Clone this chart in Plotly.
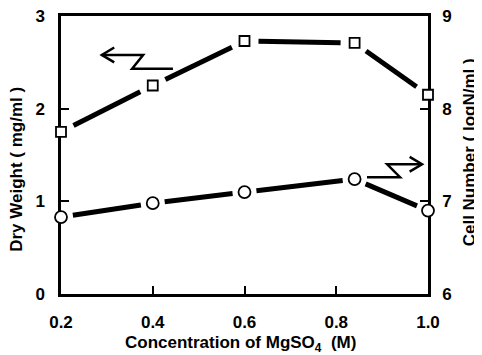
import math
import plotly.graph_objects as go

# ---- data ----
conc = [0.2, 0.4, 0.6, 0.84, 1.0]                 # MgSO4 (M)
dry_weight = [1.75, 2.25, 2.73, 2.71, 2.15]       # mg/ml (left axis)
cell_number = [6.83, 6.98, 7.10, 7.24, 6.90]      # logN/ml (right axis)
x_ticks = [0.2, 0.4, 0.6, 0.8, 1.0]
y_ticks = [0, 1, 2, 3]
y2_ticks = [6, 7, 8, 9]

# ---- layout geometry (page has an 8px body margin) ----
W, H = 474, 347
ML, MR, MT, MB = 53, 54, 8, 61
PW, PH = W - ML - MR, H - MT - MB
XR = [0.2, 1.0]
YR = [0, 3]
Y2R = [6, 9]
FONT = "Liberation Sans, Arial, sans-serif"


def gapped(xs, ys, yr, gap):
    """Segments between points, trimmed by `gap` px at each end."""
    gx, gy = [], []
    for i in range(len(xs) - 1):
        dx = (xs[i + 1] - xs[i]) / (XR[1] - XR[0]) * PW
        dy = (ys[i + 1] - ys[i]) / (yr[1] - yr[0]) * PH
        t = gap / math.hypot(dx, dy)
        gx += [xs[i] + t * (xs[i + 1] - xs[i]), xs[i + 1] - t * (xs[i + 1] - xs[i]), None]
        gy += [ys[i] + t * (ys[i + 1] - ys[i]), ys[i + 1] - t * (ys[i + 1] - ys[i]), None]
    return gx, gy


fig = go.Figure()

sx, sy = gapped(conc, dry_weight, YR, 14)
fig.add_trace(go.Scatter(x=sx, y=sy, mode="lines", line=dict(color="black", width=5),
                         cliponaxis=False, showlegend=False, hoverinfo="skip"))
fig.add_trace(go.Scatter(x=conc, y=dry_weight, mode="markers", cliponaxis=False,
                         marker=dict(symbol="square", size=10, color="white",
                                     line=dict(color="black", width=1.8)),
                         name="Dry Weight", showlegend=False))

cx, cy = gapped(conc, cell_number, Y2R, 12)
fig.add_trace(go.Scatter(x=cx, y=cy, mode="lines", yaxis="y2", line=dict(color="black", width=5),
                         cliponaxis=False, showlegend=False, hoverinfo="skip"))
fig.add_trace(go.Scatter(x=conc, y=cell_number, mode="markers", yaxis="y2", cliponaxis=False,
                         marker=dict(symbol="circle", size=12, color="white",
                                     line=dict(color="black", width=1.8)),
                         name="Cell Number", showlegend=False))

# ---- zigzag arrows (in data coords, left axis) ----
left_arrow = [(0.444, 2.43), (0.355, 2.43), (0.379, 2.58), (0.289, 2.58)]
left_head = [(0.316, 2.66), (0.289, 2.58), (0.316, 2.50)]
right_arrow = [(0.867, 1.26), (0.939, 1.26), (0.911, 1.40), (0.987, 1.40)]
right_head = [(0.960, 1.48), (0.987, 1.40), (0.960, 1.32)]


def path(pts):
    return "M " + " L ".join(f"{x},{y}" for x, y in pts)


shapes = []
for pts in (left_arrow, left_head, right_arrow, right_head):
    shapes.append(dict(type="path", path=path(pts), xref="x", yref="y",
                       line=dict(color="black", width=2.5)))

TICKFONT = dict(family=FONT, size=17, color="black", weight="bold")
TITLEFONT = dict(family=FONT, size=17, color="black", weight="bold")

annotations = [
    dict(text="Dry&nbsp;Weight&nbsp;(&nbsp;mg/ml&nbsp;)", textangle=-90, x=-0.12, y=0.45,
         xref="paper", yref="paper", showarrow=False, font=TITLEFONT,
         xanchor="center", yanchor="middle"),
    dict(text="Cell&nbsp;Number&nbsp;(&nbsp;logN/ml&nbsp;)", textangle=-90, x=1.112, y=0.51,
         xref="paper", yref="paper", showarrow=False, font=TITLEFONT,
         xanchor="center", yanchor="middle"),
    dict(text="Concentration of MgSO<sub>4</sub>&nbsp;&nbsp;(M)", x=0.49, y=-0.18,
         xref="paper", yref="paper", showarrow=False, font=TITLEFONT,
         xanchor="center", yanchor="middle"),
]

axis_common = dict(showgrid=False, zeroline=False, showline=True, linecolor="black",
                   linewidth=2.5, ticks="inside", ticklen=8, tickwidth=2, tickcolor="black",
                   layer="below traces", tickfont=TICKFONT, automargin=False,
                   ticklabeloverflow="allow")

fig.update_layout(
    width=W, height=H,
    margin=dict(l=ML, r=MR, t=MT, b=MB, autoexpand=False),
    paper_bgcolor="white", plot_bgcolor="white",
    font=dict(family=FONT, color="black", weight="bold"),
    shapes=shapes,
    annotations=annotations,
    xaxis=dict(range=XR, tickvals=x_ticks, ticktext=[f"{v:.1f}" for v in x_ticks],
               mirror=True, ticklabelstandoff=11, **axis_common),
    yaxis=dict(range=YR, tickvals=y_ticks, ticklabelstandoff=10, **axis_common),
    yaxis2=dict(range=Y2R, tickvals=y2_ticks, overlaying="y", side="right",
                ticklabelstandoff=8, **axis_common),
)

fig.write_html("out.html")
